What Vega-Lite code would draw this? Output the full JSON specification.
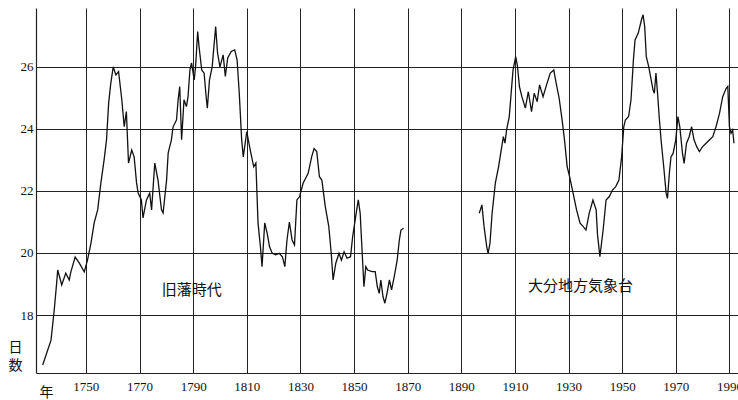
{
  "$schema": "https://vega.github.io/schema/vega-lite/v6.json",
  "width": 702,
  "height": 365,
  "autosize": {"type": "none"},
  "padding": {"left": 36, "top": 8, "right": 0, "bottom": 27},
  "background": "white",
  "config": {
    "view": {"stroke": null},
    "axis": {
      "labelFont": "Liberation Serif",
      "labelFontSize": 13,
      "labelColor": "#111",
      "gridColor": "#222",
      "gridOpacity": 1,
      "gridWidth": 1,
      "domainColor": "#222",
      "domainWidth": 1.2,
      "ticks": false,
      "titleFont": "Noto Sans CJK JP",
      "titleFontSize": 14,
      "titleFontWeight": "normal",
      "titleColor": "#111"
    }
  },
  "datasets": {
    "days": [
      {"s":"a","year":1733.9,"days":16.39},{"s":"a","year":1737.0,"days":17.19},{"s":"a","year":1738.2,"days":18.16},{"s":"a","year":1739.1,"days":19.03},{"s":"a","year":1739.5,"days":19.45},{"s":"a","year":1741.0,"days":18.97},{"s":"a","year":1742.5,"days":19.35},{"s":"a","year":1743.8,"days":19.13},{"s":"a","year":1744.4,"days":19.39},{"s":"a","year":1746.0,"days":19.87},{"s":"a","year":1747.5,"days":19.68},{"s":"a","year":1749.4,"days":19.39},{"s":"a","year":1750.6,"days":19.77},{"s":"a","year":1751.9,"days":20.32},{"s":"a","year":1753.1,"days":20.97},{"s":"a","year":1754.4,"days":21.39},{"s":"a","year":1755.6,"days":22.26},{"s":"a","year":1756.8,"days":23.0},{"s":"a","year":1757.7,"days":23.65},{"s":"a","year":1758.5,"days":24.84},{"s":"a","year":1759.3,"days":25.48},{"s":"a","year":1760.2,"days":26.0},{"s":"a","year":1761.2,"days":25.74},{"s":"a","year":1762.2,"days":25.85},{"s":"a","year":1763.4,"days":24.94},{"s":"a","year":1764.3,"days":24.07},{"s":"a","year":1765.1,"days":24.56},{"s":"a","year":1765.9,"days":22.9},{"s":"a","year":1767.1,"days":23.32},{"s":"a","year":1768.0,"days":23.1},{"s":"a","year":1768.9,"days":22.26},{"s":"a","year":1769.5,"days":21.93},{"s":"a","year":1770.7,"days":21.71},{"s":"a","year":1771.3,"days":21.13},{"s":"a","year":1772.6,"days":21.71},{"s":"a","year":1773.8,"days":21.93},{"s":"a","year":1774.5,"days":21.39},{"s":"a","year":1775.7,"days":22.9},{"s":"a","year":1776.9,"days":22.35},{"s":"a","year":1778.2,"days":21.39},{"s":"a","year":1778.8,"days":21.29},{"s":"a","year":1780.1,"days":22.35},{"s":"a","year":1780.7,"days":23.23},{"s":"a","year":1781.9,"days":23.65},{"s":"a","year":1782.5,"days":24.06},{"s":"a","year":1783.8,"days":24.29},{"s":"a","year":1784.4,"days":24.94},{"s":"a","year":1785.0,"days":25.37},{"s":"a","year":1785.7,"days":23.65},{"s":"a","year":1786.6,"days":24.94},{"s":"a","year":1787.5,"days":24.72},{"s":"a","year":1788.1,"days":25.04},{"s":"a","year":1788.8,"days":25.9},{"s":"a","year":1789.4,"days":26.13},{"s":"a","year":1790.4,"days":25.58},{"s":"a","year":1790.9,"days":26.0},{"s":"a","year":1791.7,"days":27.14},{"s":"a","year":1792.2,"days":26.66},{"s":"a","year":1793.2,"days":25.9},{"s":"a","year":1794.1,"days":25.8},{"s":"a","year":1794.9,"days":24.99},{"s":"a","year":1795.3,"days":24.67},{"s":"a","year":1796.1,"days":25.58},{"s":"a","year":1797.1,"days":26.0},{"s":"a","year":1798.4,"days":27.3},{"s":"a","year":1799.1,"days":26.45},{"s":"a","year":1800.0,"days":26.0},{"s":"a","year":1801.2,"days":26.39},{"s":"a","year":1802.0,"days":25.69},{"s":"a","year":1802.9,"days":26.29},{"s":"a","year":1804.2,"days":26.5},{"s":"a","year":1805.5,"days":26.55},{"s":"a","year":1806.4,"days":26.23},{"s":"a","year":1807.2,"days":25.16},{"s":"a","year":1808.1,"days":23.65},{"s":"a","year":1808.7,"days":23.1},{"s":"a","year":1810.0,"days":23.91},{"s":"a","year":1811.3,"days":23.32},{"s":"a","year":1812.6,"days":22.78},{"s":"a","year":1813.4,"days":22.9},{"s":"a","year":1814.2,"days":20.97},{"s":"a","year":1815.1,"days":20.2},{"s":"a","year":1815.7,"days":19.56},{"s":"a","year":1816.7,"days":20.97},{"s":"a","year":1817.6,"days":20.64},{"s":"a","year":1818.5,"days":20.2},{"s":"a","year":1819.5,"days":19.99},{"s":"a","year":1820.8,"days":19.94},{"s":"a","year":1822.1,"days":19.99},{"s":"a","year":1823.3,"days":19.88},{"s":"a","year":1824.2,"days":19.56},{"s":"a","year":1825.0,"days":20.42},{"s":"a","year":1825.9,"days":21.0},{"s":"a","year":1826.9,"days":20.42},{"s":"a","year":1827.8,"days":20.26},{"s":"a","year":1828.7,"days":21.71},{"s":"a","year":1829.7,"days":21.82},{"s":"a","year":1831.0,"days":22.25},{"s":"a","year":1832.9,"days":22.57},{"s":"a","year":1834.2,"days":23.1},{"s":"a","year":1835.1,"days":23.37},{"s":"a","year":1836.1,"days":23.27},{"s":"a","year":1837.1,"days":22.46},{"s":"a","year":1838.0,"days":22.35},{"s":"a","year":1839.3,"days":21.49},{"s":"a","year":1840.6,"days":20.85},{"s":"a","year":1841.5,"days":19.99},{"s":"a","year":1842.2,"days":19.13},{"s":"a","year":1843.2,"days":19.67},{"s":"a","year":1844.4,"days":19.99},{"s":"a","year":1845.3,"days":19.77},{"s":"a","year":1846.3,"days":20.04},{"s":"a","year":1847.4,"days":19.83},{"s":"a","year":1848.7,"days":19.88},{"s":"a","year":1849.5,"days":20.53},{"s":"a","year":1850.8,"days":21.28},{"s":"a","year":1851.6,"days":21.71},{"s":"a","year":1852.3,"days":21.28},{"s":"a","year":1852.8,"days":20.42},{"s":"a","year":1853.7,"days":18.91},{"s":"a","year":1854.4,"days":19.56},{"s":"a","year":1855.1,"days":19.45},{"s":"a","year":1856.7,"days":19.4},{"s":"a","year":1857.9,"days":19.4},{"s":"a","year":1858.7,"days":18.91},{"s":"a","year":1859.4,"days":18.7},{"s":"a","year":1860.0,"days":19.13},{"s":"a","year":1860.8,"days":18.59},{"s":"a","year":1861.5,"days":18.38},{"s":"a","year":1862.3,"days":18.7},{"s":"a","year":1863.2,"days":19.13},{"s":"a","year":1864.0,"days":18.81},{"s":"a","year":1865.0,"days":19.24},{"s":"a","year":1866.1,"days":19.77},{"s":"a","year":1866.9,"days":20.42},{"s":"a","year":1867.5,"days":20.74},{"s":"a","year":1868.5,"days":20.8},
      {"s":"b","year":1896.7,"days":21.28},{"s":"b","year":1897.7,"days":21.55},{"s":"b","year":1898.5,"days":20.85},{"s":"b","year":1899.5,"days":20.2},{"s":"b","year":1900.0,"days":19.99},{"s":"b","year":1900.7,"days":20.31},{"s":"b","year":1901.5,"days":21.28},{"s":"b","year":1902.7,"days":22.25},{"s":"b","year":1903.9,"days":22.78},{"s":"b","year":1905.1,"days":23.43},{"s":"b","year":1905.7,"days":23.75},{"s":"b","year":1906.3,"days":23.54},{"s":"b","year":1906.9,"days":23.97},{"s":"b","year":1907.9,"days":24.4},{"s":"b","year":1908.7,"days":25.26},{"s":"b","year":1909.3,"days":25.9},{"s":"b","year":1910.3,"days":26.33},{"s":"b","year":1910.9,"days":26.06},{"s":"b","year":1911.7,"days":25.36},{"s":"b","year":1912.6,"days":25.04},{"s":"b","year":1913.9,"days":24.67},{"s":"b","year":1915.0,"days":25.2},{"s":"b","year":1916.2,"days":24.56},{"s":"b","year":1917.2,"days":25.15},{"s":"b","year":1918.3,"days":24.88},{"s":"b","year":1919.2,"days":25.42},{"s":"b","year":1920.5,"days":25.04},{"s":"b","year":1921.8,"days":25.42},{"s":"b","year":1923.2,"days":25.8},{"s":"b","year":1924.5,"days":25.9},{"s":"b","year":1925.4,"days":25.47},{"s":"b","year":1926.5,"days":24.99},{"s":"b","year":1927.6,"days":24.29},{"s":"b","year":1928.5,"days":23.65},{"s":"b","year":1929.5,"days":22.78},{"s":"b","year":1930.4,"days":22.46},{"s":"b","year":1931.7,"days":21.93},{"s":"b","year":1933.0,"days":21.39},{"s":"b","year":1934.3,"days":20.96},{"s":"b","year":1935.5,"days":20.85},{"s":"b","year":1936.5,"days":20.74},{"s":"b","year":1937.7,"days":21.28},{"s":"b","year":1939.1,"days":21.71},{"s":"b","year":1940.3,"days":21.39},{"s":"b","year":1940.8,"days":20.6},{"s":"b","year":1941.7,"days":19.88},{"s":"b","year":1942.9,"days":20.74},{"s":"b","year":1944.0,"days":21.71},{"s":"b","year":1945.2,"days":21.82},{"s":"b","year":1946.4,"days":22.03},{"s":"b","year":1947.6,"days":22.14},{"s":"b","year":1948.8,"days":22.35},{"s":"b","year":1949.8,"days":23.1},{"s":"b","year":1950.6,"days":24.07},{"s":"b","year":1951.2,"days":24.29},{"s":"b","year":1952.4,"days":24.4},{"s":"b","year":1953.3,"days":24.94},{"s":"b","year":1954.2,"days":26.23},{"s":"b","year":1954.8,"days":26.87},{"s":"b","year":1956.0,"days":27.09},{"s":"b","year":1957.2,"days":27.52},{"s":"b","year":1957.8,"days":27.68},{"s":"b","year":1958.4,"days":27.3},{"s":"b","year":1959.0,"days":26.33},{"s":"b","year":1959.9,"days":26.01},{"s":"b","year":1960.6,"days":25.69},{"s":"b","year":1961.5,"days":25.26},{"s":"b","year":1962.0,"days":25.15},{"s":"b","year":1962.6,"days":25.8},{"s":"b","year":1963.2,"days":25.15},{"s":"b","year":1963.8,"days":24.4},{"s":"b","year":1964.5,"days":23.65},{"s":"b","year":1965.5,"days":22.78},{"s":"b","year":1966.4,"days":21.93},{"s":"b","year":1966.9,"days":21.76},{"s":"b","year":1967.6,"days":22.57},{"s":"b","year":1968.2,"days":23.1},{"s":"b","year":1969.0,"days":23.21},{"s":"b","year":1970.0,"days":23.65},{"s":"b","year":1970.8,"days":24.4},{"s":"b","year":1971.5,"days":24.07},{"s":"b","year":1972.5,"days":23.21},{"s":"b","year":1973.1,"days":22.89},{"s":"b","year":1974.0,"days":23.54},{"s":"b","year":1975.0,"days":23.75},{"s":"b","year":1975.9,"days":24.07},{"s":"b","year":1976.8,"days":23.65},{"s":"b","year":1977.8,"days":23.43},{"s":"b","year":1978.8,"days":23.27},{"s":"b","year":1980.0,"days":23.43},{"s":"b","year":1981.3,"days":23.54},{"s":"b","year":1982.6,"days":23.65},{"s":"b","year":1983.8,"days":23.75},{"s":"b","year":1985.0,"days":24.07},{"s":"b","year":1986.3,"days":24.5},{"s":"b","year":1987.5,"days":25.04},{"s":"b","year":1988.8,"days":25.31},{"s":"b","year":1989.4,"days":25.37},{"s":"b","year":1989.6,"days":24.94},{"s":"b","year":1990.0,"days":24.07},{"s":"b","year":1990.6,"days":23.86},{"s":"b","year":1991.2,"days":23.97},{"s":"b","year":1991.7,"days":23.54}
    ],
    "labels": [
      {"year": 1789.5, "days": 18.8, "label": "旧藩時代"},
      {"year": 1934.5, "days": 18.92, "label": "大分地方気象台"}
    ]
  },
  "layer": [
    {
      "data": {"name": "days"},
      "mark": {"type": "line", "color": "#111", "strokeWidth": 1.3, "clip": true},
      "encoding": {
        "x": {
          "field": "year", "type": "quantitative",
          "scale": {"domain": [1731.4, 1993.2], "nice": false, "zero": false},
          "axis": {
            "values": [1750, 1770, 1790, 1810, 1830, 1850, 1870, 1890, 1910, 1930, 1950, 1970, 1990],
            "format": "d",
            "labelPadding": 7,
            "labelFlush": false,
            "labelOverlap": false,
            "grid": true,
            "domain": true,
            "title": "年",
            "titleAnchor": "start",
            "titleAlign": "center",
            "titleBaseline": "middle",
            "titleX": 10,
            "titleY": 19
          }
        },
        "y": {
          "field": "days", "type": "quantitative",
          "scale": {"domain": [16.13, 27.9], "nice": false, "zero": false},
          "axis": {
            "values": [18, 20, 22, 24, 26],
            "labelPadding": 3,
            "grid": true,
            "domain": true,
            "title": ["日", "数"],
            "titleAngle": 0,
            "titleAlign": "center",
            "titleBaseline": "top",
            "titleLineHeight": 18,
            "titleX": -21,
            "titleY": 332
          }
        },
        "detail": {"field": "s", "type": "nominal"}
      }
    },
    {
      "data": {"name": "labels"},
      "mark": {"type": "text", "font": "Noto Sans CJK JP", "fontSize": 15, "color": "#111", "align": "center", "baseline": "middle"},
      "encoding": {
        "x": {"field": "year", "type": "quantitative"},
        "y": {"field": "days", "type": "quantitative"},
        "text": {"field": "label", "type": "nominal"}
      }
    }
  ]
}
